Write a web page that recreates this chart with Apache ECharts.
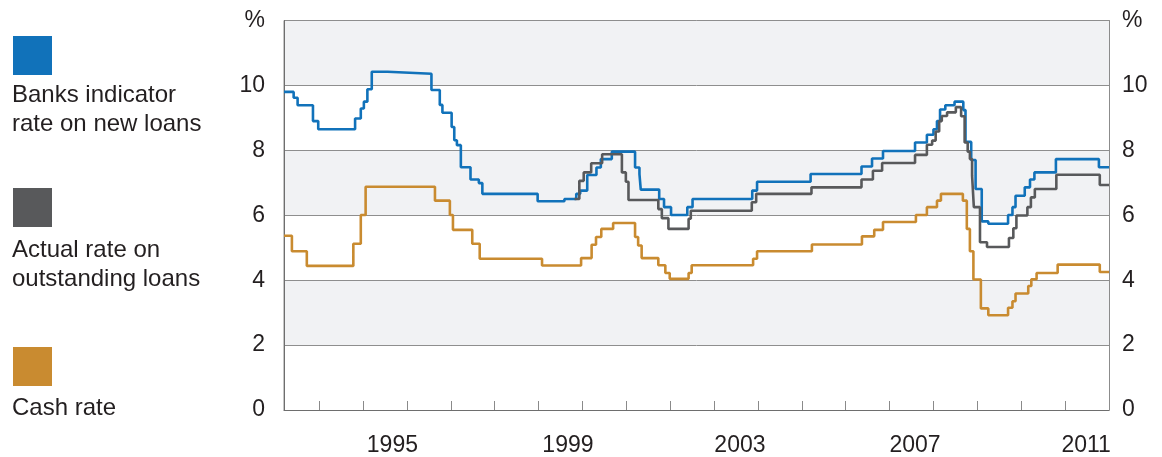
<!DOCTYPE html>
<html>
<head>
<meta charset="utf-8">
<script src="https://cdn.jsdelivr.net/npm/echarts@6/dist/echarts.min.js"></script>
<style>
html,body{margin:0;padding:0;background:#fff;}
#chart{width:1162px;height:457px;}
</style>
</head>
<body>
<div id="chart"></div>
<script>
// ---- Data (decimal year of change, value in %) ----
var seriesNames = ['Banks indicator rate on new loans', 'Actual rate on outstanding loans', 'Cash rate'];

var indicatorX = [1993.2, 1993.42, 1993.51, 1993.86, 1993.98, 1994.82, 1994.95, 1995.02, 1995.10, 1995.20, 1995.56, 1996.56, 1996.75, 1996.81, 1997.02, 1997.08, 1997.14, 1997.23, 1997.45, 1997.64, 1997.72, 1998.98, 1999.59, 1999.86, 1999.95, 2000.11, 2000.32, 2000.42, 2000.67, 2001.20, 2001.30, 2001.33, 2001.75, 2001.86, 2002.02, 2002.39, 2002.51, 2003.87, 2003.98, 2005.20, 2006.36, 2006.60, 2006.85, 2007.58, 2007.85, 2008.00, 2008.08, 2008.15, 2008.27, 2008.48, 2008.68, 2008.73, 2008.86, 2008.96, 2009.10, 2009.25, 2009.70, 2009.80, 2009.87, 2010.08, 2010.20, 2010.30, 2010.79, 2011.77, 2012.0];
var indicatorY = [9.8, 9.62, 9.39, 8.9, 8.65, 8.98, 9.29, 9.5, 9.88, 10.42, 10.36, 9.86, 9.4, 9.16, 8.72, 8.31, 8.16, 7.48, 7.1, 6.99, 6.66, 6.43, 6.5, 6.66, 6.76, 7.24, 7.47, 7.73, 7.96, 7.47, 7.27, 6.79, 6.5, 6.25, 6.01, 6.25, 6.5, 6.76, 7.03, 7.27, 7.5, 7.75, 7.98, 8.24, 8.48, 8.65, 8.9, 9.26, 9.39, 9.5, 9.24, 8.26, 7.7, 6.81, 5.81, 5.74, 6.01, 6.25, 6.6, 6.86, 7.1, 7.32, 7.73, 7.48, 7.48];

var actualX = [1999.82, 1999.93, 2000.03, 2000.20, 2000.45, 2000.90, 2000.99, 2001.05, 2001.73, 2001.81, 2001.96, 2002.42, 2002.47, 2003.86, 2003.96, 2005.22, 2006.36, 2006.62, 2006.83, 2007.58, 2007.85, 2007.97, 2008.05, 2008.13, 2008.19, 2008.31, 2008.51, 2008.63, 2008.71, 2008.78, 2008.83, 2008.88, 2008.92, 2009.06, 2009.22, 2009.72, 2009.82, 2009.89, 2010.14, 2010.22, 2010.31, 2010.80, 2011.79, 2012.0];
var actualY = [6.5, 7.06, 7.32, 7.6, 7.88, 7.32, 7.03, 6.47, 6.19, 5.91, 5.58, 5.89, 6.14, 6.4, 6.66, 6.86, 7.1, 7.37, 7.61, 7.86, 8.17, 8.3, 8.58, 8.9, 9.06, 9.17, 9.33, 9.05, 8.24, 7.96, 7.73, 7.22, 6.25, 5.17, 5.02, 5.3, 5.6, 5.99, 6.25, 6.55, 6.81, 7.25, 6.93, 6.93];

var cashX = [1993.2, 1993.38, 1993.72, 1994.78, 1994.95, 1995.06, 1996.64, 1996.98, 1997.05, 1997.49, 1997.66, 1999.08, 1999.97, 2000.21, 2000.31, 2000.43, 2000.70, 2001.20, 2001.27, 2001.35, 2001.73, 2001.89, 2001.99, 2002.42, 2002.49, 2003.89, 2003.98, 2005.23, 2006.37, 2006.65, 2006.85, 2007.60, 2007.85, 2008.08, 2008.17, 2008.67, 2008.76, 2008.83, 2008.91, 2009.08, 2009.25, 2009.70, 2009.80, 2009.87, 2010.16, 2010.23, 2010.35, 2010.83, 2011.79, 2012.0];
var cashY = [5.37, 4.89, 4.44, 5.12, 6.01, 6.88, 6.45, 6.01, 5.55, 5.12, 4.66, 4.45, 4.68, 5.09, 5.33, 5.58, 5.76, 5.33, 5.07, 4.68, 4.46, 4.22, 4.04, 4.22, 4.46, 4.66, 4.89, 5.1, 5.35, 5.55, 5.79, 6.01, 6.25, 6.45, 6.66, 6.45, 5.58, 4.89, 4.02, 3.13, 2.92, 3.15, 3.35, 3.59, 3.82, 4.03, 4.22, 4.48, 4.25, 4.25];

// ---- Axis tick / label values ----
var yearTicks = [1994, 1995, 1996, 1997, 1998, 1999, 2000, 2001, 2002, 2003, 2004, 2005, 2006, 2007, 2008, 2009, 2010, 2011];
var yearLabelPos = [1995.67, 1999.67, 2003.59, 2007.58, 2011.48];
var yearLabels = ['1995', '1999', '2003', '2007', '2011'];

function zip(xs, ys) { return xs.map(function (x, i) { return [x, ys[i]]; }); }

var BLUE = '#1172ba', GRAY = '#58595b', ORANGE = '#c98b30';
var FONT = 'Liberation Sans, Arial, sans-serif';
var FS = 23;
var LFS = 24;
var TXT = '#231f20';

var chart = echarts.init(document.getElementById('chart'), null, { renderer: 'canvas' });

function yFmt(v) { return v === 12 ? '%' : String(v); }

var option = {
  animation: false,
  backgroundColor: '#ffffff',
  grid: { left: 284, right: 53, top: 20.5, bottom: 44.5, show: true, borderColor: '#8c8c8c', borderWidth: 1, backgroundColor: 'transparent' },
  xAxis: {
    type: 'value', min: 1993.2, max: 2012.0,
    axisLine: { show: true, onZero: false, lineStyle: { color: '#6e6e6e', width: 1.2 } },
    axisTick: { show: true, inside: true, length: 9, customValues: yearTicks, lineStyle: { color: '#8a8a8a' } },
    axisLabel: {
      show: true, customValues: yearLabelPos, margin: 24,
      formatter: function (v) { var i = yearLabelPos.indexOf(v); return i >= 0 ? yearLabels[i] : ''; },
      color: TXT, fontSize: FS, fontFamily: FONT
    },
    splitLine: { show: false }
  },
  yAxis: [
    {
      type: 'value', min: 0, max: 12, interval: 2, position: 'left',
      axisLine: { show: true, lineStyle: { color: '#6e6e6e' } },
      axisTick: { show: false },
      axisLabel: { formatter: yFmt, color: TXT, fontSize: FS, fontFamily: FONT, margin: 19 },
      splitLine: { show: true, lineStyle: { color: '#8e8e8e', width: 1 } },
      splitArea: { show: true, areaStyle: { color: ['#ffffff', '#f1f2f4'] } }
    },
    {
      type: 'value', min: 0, max: 12, interval: 2, position: 'right',
      axisLine: { show: true, lineStyle: { color: '#8c8c8c' } },
      axisTick: { show: false },
      axisLabel: { formatter: yFmt, color: TXT, fontSize: FS, fontFamily: FONT, margin: 13 },
      splitLine: { show: false }
    }
  ],
  series: [
    { name: seriesNames[0], type: 'line', step: 'end', showSymbol: false, symbol: 'none', data: zip(indicatorX, indicatorY), lineStyle: { color: BLUE, width: 2.6 }, z: 3 },
    { name: seriesNames[1], type: 'line', step: 'end', showSymbol: false, symbol: 'none', data: zip(actualX, actualY), lineStyle: { color: GRAY, width: 2.6 }, z: 4 },
    { name: seriesNames[2], type: 'line', step: 'end', showSymbol: false, symbol: 'none', data: zip(cashX, cashY), lineStyle: { color: ORANGE, width: 2.6 }, z: 3 }
  ],
  graphic: [
    { type: 'rect', left: 13, top: 36, shape: { width: 39, height: 39 }, style: { fill: BLUE } },
    { type: 'text', x: 12, y: 95, style: { text: 'Banks indicator', font: LFS + 'px ' + FONT, fill: TXT, verticalAlign: 'middle' } },
    { type: 'text', x: 12, y: 124, style: { text: 'rate on new loans', font: LFS + 'px ' + FONT, fill: TXT, verticalAlign: 'middle' } },
    { type: 'rect', left: 13, top: 188, shape: { width: 39, height: 39 }, style: { fill: GRAY } },
    { type: 'text', x: 12, y: 250, style: { text: 'Actual rate on', font: LFS + 'px ' + FONT, fill: TXT, verticalAlign: 'middle' } },
    { type: 'text', x: 12, y: 279, style: { text: 'outstanding loans', font: LFS + 'px ' + FONT, fill: TXT, verticalAlign: 'middle' } },
    { type: 'rect', left: 13, top: 347, shape: { width: 39, height: 39 }, style: { fill: ORANGE } },
    { type: 'text', x: 12, y: 408, style: { text: 'Cash rate', font: LFS + 'px ' + FONT, fill: TXT, verticalAlign: 'middle' } }
  ]
};
chart.setOption(option);
</script>
</body>
</html>
